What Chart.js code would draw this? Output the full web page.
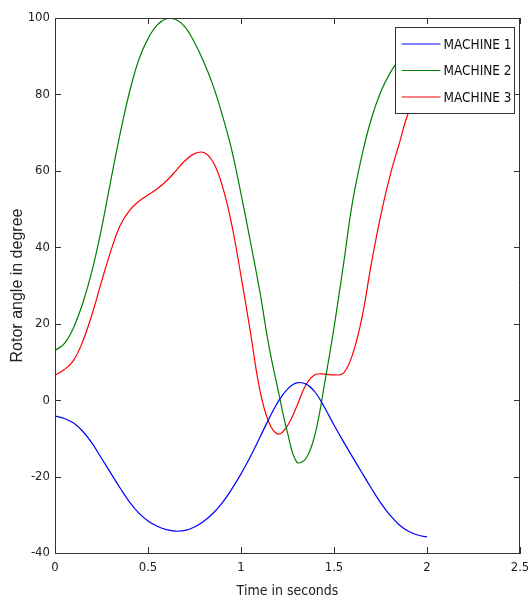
<!DOCTYPE html>
<html>
<head>
<meta charset="utf-8">
<title>Rotor angle</title>
<script src="https://cdn.jsdelivr.net/npm/chart.js@4.4.1/dist/chart.umd.min.js"></script>
<style>
  body { margin: 0; background: #fff; }
  canvas { display: block; }
</style>
</head>
<body>
<canvas id="Rotor_Chart" width="528" height="602"></canvas>
<script>
// data
const time = [0, 0.05, 0.1, 0.15, 0.2, 0.25, 0.3, 0.35, 0.4, 0.45, 0.5, 0.55, 0.6, 0.65, 0.7, 0.75, 0.8, 0.85, 0.9, 0.95,
  1, 1.05, 1.1, 1.15, 1.2, 1.25, 1.3, 1.35, 1.4, 1.45, 1.5, 1.55, 1.6, 1.65, 1.7, 1.75, 1.8, 1.85, 1.9, 1.95, 2];

const machine1 = [-4.2, -4.8, -6.0, -8.2, -11.3, -15.2, -19.1, -23.0, -26.6, -29.5, -31.6, -33.0, -33.9, -34.3, -34.1, -33.2, -31.7, -29.6, -26.8, -23.3,
  -19.3, -14.8, -9.9, -4.9, -0.4, 2.9, 4.5, 4.2, 2.0, -2.0, -6.5, -10.8, -14.9, -19.0, -23.0, -26.8, -30.0, -32.6, -34.3, -35.3, -35.8];

const machine2 = [13.0, 14.8, 19.0, 25.5, 34.0, 44.9, 57.5, 69.7, 80.5, 89.0, 94.6, 98.2, 99.8, 99.6, 97.6, 93.6, 88.5, 82.3, 74.5, 65.5,
  54.0, 41.6, 28.8, 14.2, 2.5, -8.5, -16.2, -15.2, -8.5, 4.5, 19.0, 35.2, 52.0, 64.0, 73.5, 80.5, 85.5, 89.0, 90.8, 92.0, 93.0];

const machine3 = [6.5, 8.0, 10.4, 15.5, 22.6, 31.0, 39.0, 45.7, 49.6, 52.0, 53.7, 55.3, 57.4, 60.0, 62.7, 64.5, 64.8, 62.3, 56.0, 46.0,
  32.5, 18.0, 3.0, -5.8, -8.9, -6.7, -1.6, 4.1, 6.7, 6.8, 6.6, 7.0, 12.0, 21.5, 35.5, 48.0, 58.5, 67.0, 75.2, 80.0, 83.0];

const seriesNames = ['MACHINE 1', 'MACHINE 2', 'MACHINE 3'];
const seriesColors = ['#0000ff', '#008000', '#ff0000'];

const xTicks = [0, 0.5, 1, 1.5, 2, 2.5];
const yTicks = [-40, -20, 0, 20, 40, 60, 80, 100];

const narrow = "'Liberation Sans Narrow', 'DejaVu Sans Condensed', sans-serif";

function points(values) {
  return time.map((t, i) => ({ x: t, y: values[i] }));
}

// ticks pointing inward on all four sides + top/right border (matlab box)
const boxTicks = {
  id: 'boxTicks',
  afterDatasetsDraw(chart) {
    const ctx = chart.ctx;
    const a = chart.chartArea;
    const xs = chart.scales.x;
    const ys = chart.scales.y;
    const len = 6;
    ctx.save();
    ctx.strokeStyle = '#333';
    ctx.lineWidth = 1;
    ctx.beginPath();
    ctx.moveTo(a.left, a.top + 0.5);
    ctx.lineTo(a.right, a.top + 0.5);
    ctx.moveTo(a.right - 0.5, a.top);
    ctx.lineTo(a.right - 0.5, a.bottom);
    xTicks.forEach(v => {
      const px = Math.round(xs.getPixelForValue(v)) + 0.5;
      ctx.moveTo(px, a.bottom);
      ctx.lineTo(px, a.bottom - len);
      ctx.moveTo(px, a.top);
      ctx.lineTo(px, a.top + len);
    });
    yTicks.forEach(v => {
      const py = Math.round(ys.getPixelForValue(v)) + 0.5;
      ctx.moveTo(a.left, py);
      ctx.lineTo(a.left + len, py);
      ctx.moveTo(a.right, py);
      ctx.lineTo(a.right - len, py);
    });
    ctx.stroke();
    ctx.restore();
  }
};

// legend box in the top right corner of the plot
const boxLegend = {
  id: 'boxLegend',
  afterDraw(chart) {
    const ctx = chart.ctx;
    const a = chart.chartArea;
    const w = 119, h = 86;
    const left = a.right - 5.5 - w;
    const top = a.top + 9.5;
    ctx.save();
    ctx.fillStyle = '#fff';
    ctx.fillRect(left, top, w, h);
    ctx.strokeStyle = '#333';
    ctx.lineWidth = 1;
    ctx.strokeRect(left, top, w, h);
    ctx.font = '13.5px ' + narrow;
    ctx.textBaseline = 'middle';
    ctx.fillStyle = '#111';
    chart.data.datasets.forEach((ds, i) => {
      const y = top + 16.5 + i * 26.5;
      ctx.strokeStyle = ds.borderColor;
      ctx.lineWidth = 1.2;
      ctx.beginPath();
      ctx.moveTo(left + 6, y);
      ctx.lineTo(left + 45, y);
      ctx.stroke();
      ctx.fillText(ds.label, left + 48, y + 1);
    });
    ctx.restore();
  }
};

const ctx = document.getElementById('Rotor_Chart');

const Rotor_Chart = new Chart(ctx, {
  type: 'line',
  data: {
    datasets: [machine1, machine2, machine3].map((vals, i) => ({
      label: seriesNames[i],
      data: points(vals),
      borderColor: seriesColors[i],
      borderWidth: 1.2,
      pointRadius: 0,
      tension: 0.4,
      fill: false
    }))
  },
  options: {
    responsive: false,
    animation: false,
    layout: { padding: { top: 18, right: 8, left: 0, bottom: 0 } },
    plugins: {
      legend: { display: false },
      tooltip: { enabled: false }
    },
    scales: {
      x: {
        type: 'linear',
        min: 0,
        max: 2.5,
        afterBuildTicks: s => { s.ticks = xTicks.map(v => ({ value: v })); },
        afterFit: s => { s.height = 49; s.paddingLeft = 0; s.paddingRight = 0; },
        ticks: {
          padding: 7,
          color: '#222',
          font: { family: narrow, size: 13 },
          callback: v => String(v)
        },
        grid: { drawOnChartArea: false, drawTicks: false },
        border: { color: '#333', width: 1 },
        title: {
          display: true,
          text: 'Time in seconds',
          color: '#222',
          font: { family: narrow, size: 14 },
          padding: { top: 0, bottom: 2 }
        }
      },
      y: {
        min: -40,
        max: 100,
        afterBuildTicks: s => { s.ticks = yTicks.map(v => ({ value: v })); },
        afterFit: s => { s.width = 55; s.paddingTop = 0; s.paddingBottom = 0; },
        ticks: {
          padding: 5,
          color: '#222',
          font: { family: narrow, size: 13 },
          callback: v => String(v)
        },
        grid: { drawOnChartArea: false, drawTicks: false },
        border: { color: '#333', width: 1 },
        title: {
          display: true,
          text: 'Rotor angle in degree',
          color: '#222',
          font: { family: "'Liberation Sans', Arial, sans-serif", size: 16 },
          padding: { top: 8, bottom: 0 }
        }
      }
    }
  },
  plugins: [boxTicks, boxLegend]
});
</script>
</body>
</html>
